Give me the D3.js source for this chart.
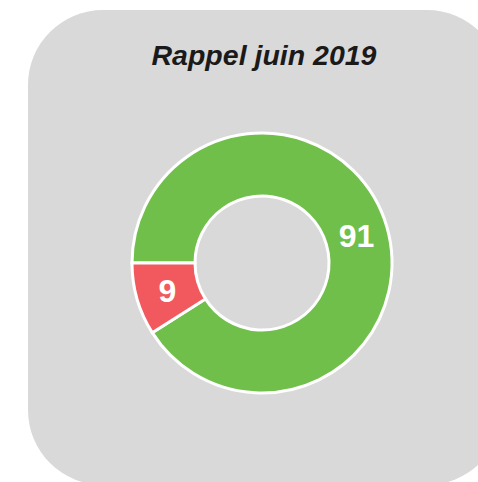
<!DOCTYPE html>
<html>
<head>
<meta charset="utf-8">
<script src="https://cdn.jsdelivr.net/npm/d3@7"></script>
<style>
    html, body { margin: 0; padding: 0; background: #ffffff; overflow: hidden; }
    svg { display: block; }
</style>
</head>
<body>
<div id="chart"></div>
<script>
// Data
const categories = ['Oui', 'Non'];
const values = [91, 9];
const sliceColors = ['#70bf4b', '#f1595e'];
const title = 'Rappel juin 2019';

const width = 478, height = 482;
const cx = 262, cy = 263;
const outerRadius = 130, innerRadius = 67;

const svg = d3.select('#chart')
    .append('svg')
    .attr('width', width)
    .attr('height', height);

// Card background
svg.append('rect')
    .attr('x', 28)
    .attr('y', 10)
    .attr('width', 474)
    .attr('height', 475)
    .attr('rx', 75)
    .attr('ry', 75)
    .style('fill', '#d9d9d9');

svg.append('text')
    .attr('x', 264)
    .attr('y', 65)
    .attr('text-anchor', 'middle')
    .style('font-family', '"Liberation Sans", Arial, sans-serif')
    .style('font-weight', 'bold')
    .style('font-style', 'italic')
    .style('font-size', '28.5px')
    .style('fill', '#1a1a1a')
    .text(title);

const dataset = categories.map((c, i) => ({ category: c, value: values[i] }));

const pie = d3.pie()
    .value(d => d.value)
    .sort(null)
    .startAngle(-Math.PI / 2)
    .endAngle(Math.PI * 1.5);

const arc = d3.arc()
    .innerRadius(innerRadius)
    .outerRadius(outerRadius);

const color = d3.scaleOrdinal()
    .domain(categories)
    .range(sliceColors);

const g = svg.append('g')
    .attr('transform', `translate(${cx}, ${cy})`);

g.selectAll('path')
    .data(pie(dataset))
    .enter()
    .append('path')
    .attr('d', arc)
    .style('fill', d => color(d.data.category))
    .style('stroke', '#ffffff')
    .style('stroke-width', 3);

g.selectAll('text')
    .data(pie(dataset))
    .enter()
    .append('text')
    .attr('transform', d => `translate(${arc.centroid(d)})`)
    .attr('text-anchor', 'middle')
    .attr('dy', '0.36em')
    .style('font-family', '"Liberation Sans", Arial, sans-serif')
    .style('font-weight', 'bold')
    .style('font-size', '32px')
    .style('fill', '#ffffff')
    .text(d => d.data.value);
</script>
</body>
</html>
